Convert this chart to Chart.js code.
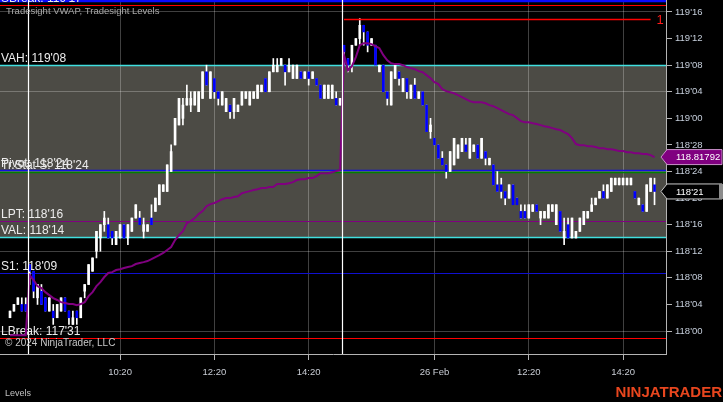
<!DOCTYPE html>
<html lang="en">
<head>
<meta charset="utf-8">
<title>Tradesight VWAP, Tradesight Levels</title>
<script src="https://cdn.jsdelivr.net/npm/chart.js@4.4.1/dist/chart.umd.min.js"></script>
<style>
    html, body { margin: 0; padding: 0; background: #000; overflow: hidden; }
    canvas { display: block; }
</style>
</head>
<body>
<canvas id="grafico-ninja" width="723" height="402"></canvas>
<script>
// precos guardados em 32 avos acima de 118'00
const BASE_PRECO = 118;

const aberturas = [
    2, 3, 4, 4, 4,
    10, 9, 5, 6, 5, 3, 3, 2, 3, 5,
    3, 1, 3, 2, 6, 7, 9, 12, 14, 16,
    16, 15, 13, 14, 16, 14, 15, 17, 17, 15,
    15, 17, 18, 19, 21, 21, 24, 28, 31, 32,
    34, 34, 34, 33, 35, 39, 35, 38, 36, 34,
    33, 34, 33, 33, 34, 35, 34, 35, 35, 36,
    38, 36, 39, 39, 40, 40, 39, 38, 38, 39,
    38, 39, 38, 38, 37, 35, 35, 35, 35, 34,
    43, 41, 40, 43, 44, 46, 45, 43, 43, 39,
    40, 36, 34, 38, 39, 36, 38, 35, 37, 35,
    36, 34, 30, 29, 28, 26, 25, 24, 25, 26,
    27, 28, 26, 27, 28, 26, 27, 25, 25, 22,
    22, 21, 20, 22, 20, 18, 18, 17, 18, 19,
    17, 17, 17, 18, 16, 18, 14, 16, 14, 14,
    15, 16, 17, 18, 19, 20, 21, 20, 21, 22,
    22, 22, 22, 22, 21, 19, 19, 18, 21, 22
];
const maximas = [
    3, 4, 5, 5, 5,
    10, 9, 7, 7, 5, 5, 4, 4, 5, 5,
    3, 3, 3, 5, 7, 10, 11, 15, 16, 18,
    17, 15, 15, 16, 16, 16, 17, 19, 18, 17,
    16, 19, 20, 22, 22, 25, 28, 32, 35, 35,
    37, 36, 36, 36, 39, 40, 39, 38, 36, 36,
    35, 34, 35, 34, 36, 36, 36, 36, 37, 37,
    38, 39, 41, 41, 41, 40, 41, 40, 40, 39,
    39, 39, 39, 38, 37, 37, 37, 37, 36, 35,
    43, 41, 43, 44, 47, 46, 45, 44, 43, 40,
    40, 36, 39, 40, 39, 38, 38, 37, 38, 36,
    36, 34, 32, 29, 28, 27, 25, 27, 29, 28,
    29, 29, 29, 28, 28, 29, 27, 26, 25, 24,
    23, 21, 22, 22, 20, 19, 19, 19, 19, 19,
    18, 18, 19, 19, 19, 18, 17, 17, 17, 15,
    17, 18, 18, 20, 20, 21, 22, 22, 23, 23,
    23, 23, 23, 23, 21, 20, 19, 22, 23, 23
];
const minimas = [
    2, 3, 4, 3, 3,
    7, 5, 4, 4, 3, 3, 1, 2, 3, 3,
    1, 1, 1, 2, 5, 7, 9, 11, 12, 15,
    14, 13, 13, 14, 14, 13, 15, 17, 16, 14,
    15, 16, 18, 19, 21, 21, 24, 28, 31, 31,
    34, 33, 34, 33, 35, 37, 35, 35, 34, 34,
    33, 32, 32, 33, 34, 35, 34, 35, 35, 36,
    36, 36, 39, 39, 40, 37, 39, 38, 38, 38,
    38, 37, 38, 37, 35, 35, 35, 35, 34, 34,
    40, 39, 39, 43, 43, 43, 42, 43, 40, 39,
    36, 34, 34, 38, 37, 36, 35, 35, 35, 35,
    34, 30, 29, 28, 26, 25, 23, 24, 25, 26,
    27, 27, 26, 27, 26, 26, 25, 25, 22, 21,
    20, 19, 20, 19, 19, 17, 17, 17, 18, 18,
    16, 17, 17, 18, 16, 15, 13, 14, 14, 14,
    15, 16, 17, 18, 19, 20, 20, 20, 21, 22,
    22, 22, 22, 22, 20, 19, 18, 18, 21, 19
];
const fechamentos = [
    3, 4, 5, 3, 3,
    9, 6, 7, 4, 3, 5, 2, 4, 5, 3,
    2, 2, 2, 5, 7, 10, 11, 15, 16, 17,
    14, 14, 15, 16, 14, 16, 17, 19, 16, 16,
    16, 16, 20, 22, 22, 25, 27, 32, 35, 34,
    35, 35, 36, 36, 39, 37, 39, 36, 35, 36,
    35, 33, 35, 34, 36, 36, 36, 36, 37, 37,
    36, 39, 40, 40, 41, 39, 40, 40, 40, 38,
    39, 38, 39, 37, 35, 37, 37, 37, 34, 35,
    42, 40, 43, 44, 46, 45, 43, 44, 40, 40,
    36, 35, 39, 40, 38, 38, 36, 37, 35, 36,
    34, 30, 31, 28, 26, 25, 24, 27, 29, 28,
    29, 27, 29, 28, 26, 29, 26, 26, 22, 21,
    21, 20, 22, 19, 19, 17, 17, 19, 19, 18,
    18, 18, 19, 19, 19, 15, 15, 14, 17, 15,
    17, 18, 18, 19, 20, 21, 20, 22, 23, 23,
    23, 23, 23, 23, 20, 20, 18, 22, 23, 21
];
const vwap = [
    117.98, 117.98, 117.98, 117.98, 117.98,
    118.263, 118.240, 118.211, 118.202, 118.183, 118.169, 118.155, 118.146, 118.136, 118.132,
    118.127, 118.127, 118.122, 118.127, 118.136, 118.164, 118.183, 118.211, 118.230, 118.254,
    118.273, 118.277, 118.287, 118.291, 118.296, 118.301, 118.305, 118.315, 118.320, 118.324,
    118.329, 118.338, 118.348, 118.357, 118.367, 118.381, 118.395, 118.428, 118.451, 118.470,
    118.508, 118.517, 118.531, 118.550, 118.564, 118.587, 118.597, 118.602, 118.611, 118.620,
    118.625, 118.625, 118.630, 118.634, 118.648, 118.653, 118.658, 118.663, 118.667, 118.672,
    118.672, 118.677, 118.677, 118.691, 118.691, 118.691, 118.695, 118.700, 118.710, 118.714,
    118.714, 118.719, 118.719, 118.728, 118.742, 118.742, 118.742, 118.747, 118.752, 118.757,
    119.297, 119.226, 119.245, 119.288, 119.344, 119.353, 119.353, 119.349, 119.339, 119.330,
    119.297, 119.273, 119.259, 119.255, 119.255, 119.250, 119.241, 119.236, 119.231, 119.222,
    119.217, 119.203, 119.189, 119.170, 119.161, 119.137, 119.128, 119.123, 119.118, 119.109,
    119.100, 119.090, 119.081, 119.076, 119.076, 119.076, 119.071, 119.062, 119.057, 119.048,
    119.039, 119.029, 119.020, 119.015, 119.001, 118.987, 118.982, 118.982, 118.977, 118.973,
    118.968, 118.963, 118.959, 118.954, 118.949, 118.945, 118.935, 118.926, 118.907, 118.879,
    118.874, 118.874, 118.869, 118.869, 118.865, 118.860, 118.860, 118.855, 118.855, 118.851,
    118.846, 118.846, 118.841, 118.841, 118.836, 118.836, 118.832, 118.832, 118.827, 118.81792
];

// eixo do tempo: indice da barra -> rotulo
const posicoesTempo = [28, 52, 76, 108, 132, 156];
const rotulosTempo = ['10:20', '12:20', '14:20', '26 Feb', '12:20', '14:20'];
const quebrasSessao = [4.5, 84.5];

const valoresEixoY = [118, 118.125, 118.25, 118.375, 118.5, 118.625, 118.75, 118.875, 119, 119.125, 119.25, 119.375, 119.5];
const rotulosEixoY = ["118'00", "118'04", "118'08", "118'12", "118'16", "118'20", "118'24", "118'28", "119'00", "119'04", "119'08", "119'12", "119'16"];

// niveis Tradesight
const nomesNiveis = ['SBreak', 'VAH', 'Pivot', 'Tr.Stat S', 'LPT', 'VAL', 'S1', 'LBreak'];
const valoresNiveis = [119.53125, 119.25, 118.757, 118.746, 118.517, 118.442, 118.273, 117.96875];
const rotulosNiveis = ["119'17", "119'08", "118'24", "118'24", "118'16", "118'14", "118'09", "117'31"];
const linhaTopo = 119.552;

// linha desenhada a mao (raio vermelho)
const raioValor = 119.46875;
const raioInicio = 85;
const raioFim = 163;
const raioRotulo = '1';

const tituloIndicadores = 'Tradesight VWAP, Tradesight Levels';
const textoCopyright = '\u00a9 2024 NinjaTrader, LLC';

const FONTE = '"Liberation Sans", Arial, sans-serif';
const coresNiveis = ['#ff0000', '#40e0e0', '#1010e0', '#008000', '#800080', '#40e0e0', '#1010d0', '#ff0000'];
const largurasNiveis = [1, 1.6, 1.3, 1.3, 1, 1.6, 1.2, 1];

const preco = t => BASE_PRECO + t / 32;
const formatar32 = t => `${BASE_PRECO + Math.floor(t / 32)}'${String(t % 32).padStart(2, '0')}`;
const indices = fechamentos.map((_, i) => i);
const ultimo = fechamentos.length - 1;

function desenharBandeira(ctx, area, largura, y, fundo, borda, texto, faixa) {
    const ponta = area.right - 5;
    const inicio = area.right + 1;
    const fim = largura - 1;
    const meia = 7.5;
    ctx.beginPath();
    ctx.moveTo(ponta, y);
    ctx.lineTo(inicio, y - meia);
    ctx.lineTo(fim, y - meia);
    ctx.lineTo(fim, y + meia);
    ctx.lineTo(inicio, y + meia);
    ctx.closePath();
    ctx.fillStyle = fundo;
    ctx.fill();
    ctx.strokeStyle = borda;
    ctx.lineWidth = 1;
    ctx.stroke();
    if (faixa) {
        ctx.fillStyle = faixa;
        ctx.fillRect(fim - 3, y - meia, 4, meia * 2);
    }
    ctx.fillStyle = '#ffffff';
    ctx.font = `9.5px ${FONTE}`;
    ctx.textBaseline = 'middle';
    ctx.textAlign = 'left';
    ctx.fillText(texto, area.right + 10, y + 0.5);
}

const pluginNinja = {
    id: 'ninja',
    beforeDraw(chart) {
        const { ctx, chartArea: area, scales: { y } } = chart;
        ctx.save();
        ctx.fillStyle = '#000000';
        ctx.fillRect(0, 0, chart.width, chart.height);
        // area de valor entre VAH e VAL
        const topo = y.getPixelForValue(valoresNiveis[1]);
        const base = y.getPixelForValue(valoresNiveis[5]);
        ctx.fillStyle = '#4c4b45';
        ctx.fillRect(area.left, topo, area.right - area.left, base - topo);
        ctx.restore();
    },
    beforeDatasetsDraw(chart) {
        const { ctx, chartArea: area, scales: { y } } = chart;
        ctx.save();
        ctx.beginPath();
        ctx.rect(area.left, area.top, area.right - area.left, area.bottom - area.top);
        ctx.clip();

        ctx.strokeStyle = '#0a0aff';
        ctx.lineWidth = 2.5;
        const yTopo = y.getPixelForValue(linhaTopo);
        ctx.beginPath();
        ctx.moveTo(area.left, yTopo);
        ctx.lineTo(area.right, yTopo);
        ctx.stroke();

        valoresNiveis.forEach((valor, i) => {
            const py = Math.round(y.getPixelForValue(valor)) + 0.5;
            ctx.strokeStyle = coresNiveis[i];
            ctx.lineWidth = largurasNiveis[i];
            ctx.beginPath();
            ctx.moveTo(area.left, py);
            ctx.lineTo(area.right, py);
            ctx.stroke();
        });

        ctx.font = `12px ${FONTE}`;
        ctx.fillStyle = '#ececec';
        ctx.textBaseline = 'alphabetic';
        valoresNiveis.forEach((valor, i) => {
            const py = y.getPixelForValue(valor);
            ctx.fillText(`${nomesNiveis[i]}: ${rotulosNiveis[i]}`, area.left + 1, py - 3);
        });
        ctx.restore();
    },
    afterDatasetsDraw(chart) {
        const { ctx, chartArea: area, scales: { x, y } } = chart;
        ctx.save();
        // raio vermelho
        const py = Math.round(y.getPixelForValue(raioValor)) + 0.5;
        const xFim = x.getPixelForValue(raioFim);
        ctx.strokeStyle = '#ff0000';
        ctx.lineWidth = 1.5;
        ctx.beginPath();
        ctx.moveTo(x.getPixelForValue(raioInicio), py);
        ctx.lineTo(xFim, py);
        ctx.stroke();
        ctx.fillStyle = '#ff1a1a';
        ctx.font = `13px ${FONTE}`;
        ctx.textBaseline = 'middle';
        ctx.fillText(raioRotulo, xFim + 6, py + 1);

        // quebras de sessao
        ctx.strokeStyle = '#ffffff';
        ctx.lineWidth = 1.2;
        quebrasSessao.forEach(q => {
            const px = Math.round(x.getPixelForValue(q)) + 0.5;
            ctx.beginPath();
            ctx.moveTo(px, area.top);
            ctx.lineTo(px, area.bottom);
            ctx.stroke();
        });
        ctx.restore();
    },
    afterDraw(chart) {
        const { ctx, chartArea: area, scales: { y } } = chart;
        ctx.save();
        ctx.textBaseline = 'middle';
        ctx.textAlign = 'left';
        ctx.font = `9.5px ${FONTE}`;
        ctx.fillStyle = '#a8a8a8';
        ctx.fillText(tituloIndicadores, area.left + 6, 11);
        ctx.font = `10px ${FONTE}`;
        ctx.fillStyle = '#c8c8c8';
        ctx.fillText(textoCopyright, area.left + 5, area.bottom - 11);
        ctx.font = `9px ${FONTE}`;
        ctx.fillStyle = '#c0c0c0';
        ctx.fillText('Levels', 5, chart.height - 8);
        ctx.font = `bold 15px ${FONTE}`;
        ctx.fillStyle = '#e8461e';
        ctx.textAlign = 'right';
        ctx.fillText('NINJATRADER', chart.width - 1, chart.height - 9);

        desenharBandeira(ctx, area, chart.width, y.getPixelForValue(vwap[ultimo]),
            '#800080', '#c890c8', vwap[ultimo].toFixed(5), null);
        desenharBandeira(ctx, area, chart.width, y.getPixelForValue(preco(fechamentos[ultimo])),
            '#000000', '#c8c8c8', formatar32(fechamentos[ultimo]), '#8c8c8c');
        ctx.restore();
    }
};

Chart.defaults.font.family = FONTE;

const ctxGrafico = document.getElementById('grafico-ninja').getContext('2d');

const grafico = new Chart(ctxGrafico, {
    type: 'bar',
    data: {
        datasets: [
            {
                label: 'VWAP',
                type: 'line',
                data: indices.map(i => ({ x: i, y: vwap[i] })),
                borderColor: '#800080',
                borderWidth: 2,
                pointRadius: 0,
                tension: 0,
                order: 1
            },
            {
                label: 'Corpos',
                data: indices.map(i => ({ x: i, y: [preco(aberturas[i]), preco(fechamentos[i])] })),
                backgroundColor: indices.map(i => fechamentos[i] >= aberturas[i] ? '#ffffff' : '#0000ff'),
                borderWidth: 0,
                barThickness: 2,
                minBarLength: 1,
                grouped: false,
                order: 2
            },
            {
                label: 'Pavios',
                data: indices.map(i => ({ x: i, y: [preco(minimas[i]), preco(maximas[i])] })),
                backgroundColor: '#ffffff',
                borderWidth: 0,
                barThickness: 1,
                minBarLength: 1,
                grouped: false,
                order: 3
            }
        ]
    },
    options: {
        responsive: false,
        animation: false,
        events: [],
        layout: { padding: 0 },
        plugins: {
            legend: { display: false },
            tooltip: { enabled: false }
        },
        scales: {
            x: {
                type: 'linear',
                position: 'bottom',
                offset: false,
                min: -2.545,
                max: 166.92,
                afterFit: escala => {
                    escala.height = 48;
                    escala.paddingLeft = 0;
                    escala.paddingRight = 0;
                },
                afterBuildTicks: escala => {
                    escala.ticks = posicoesTempo.map(v => ({ value: v }));
                },
                ticks: {
                    callback: (valor, i) => rotulosTempo[i],
                    color: '#c8ccd4',
                    font: { size: 9.5 },
                    maxRotation: 0,
                    autoSkip: false,
                    padding: 7
                },
                grid: {
                    offset: false,
                    color: 'rgba(255,255,255,0.25)',
                    tickColor: '#b4b4b4',
                    tickLength: 6
                },
                border: { color: '#b4b4b4', width: 1 }
            },
            y: {
                type: 'linear',
                position: 'right',
                min: 117.8921,
                max: 119.5564,
                afterFit: escala => {
                    escala.width = 57;
                    escala.paddingTop = 0;
                    escala.paddingBottom = 0;
                },
                afterBuildTicks: escala => {
                    escala.ticks = valoresEixoY.map(v => ({ value: v }));
                },
                ticks: {
                    callback: (valor, i) => rotulosEixoY[i],
                    color: '#c6cfdc',
                    font: { size: 9.5 },
                    padding: 3
                },
                grid: {
                    color: c => c.index % 3 === 0 ? 'rgba(255,255,255,0.25)' : 'rgba(0,0,0,0)',
                    tickColor: '#b4b4b4',
                    tickLength: 6
                },
                border: { color: '#b4b4b4', width: 1 }
            }
        }
    },
    plugins: [pluginNinja]
});
</script>
</body>
</html>
